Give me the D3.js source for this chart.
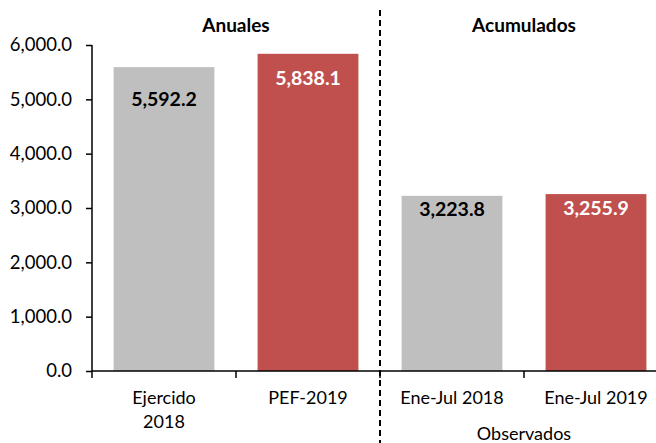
<!DOCTYPE html>
<html>
<head>
<meta charset="utf-8">
<script src="https://cdn.jsdelivr.net/npm/d3@7"></script>
<style>
  body { margin: 0; background: #fff; }
  text { font-family: Lato, "Open Sans", sans-serif; }
</style>
</head>
<body>
<svg id="chart" width="656" height="443"></svg>
<script>
// data
var categories = ["Ejercido 2018", "PEF-2019", "Ene-Jul 2018", "Ene-Jul 2019"];
var values = [5592.2, 5838.1, 3223.8, 3255.9];
var groupLabels = ["Anuales", "Acumulados"];
var yTicks = [0, 1000, 2000, 3000, 4000, 5000, 6000];

var colors = ["#bfbfbf", "#c0504d", "#bfbfbf", "#c0504d"];
var labelColors = ["#000", "#fff", "#000", "#fff"];
var labelDrop = [32, 24, 13, 14];

var svg = d3.select("#chart");
var plotLeft = 92, plotRight = 668, plotTop = 45, plotBottom = 371;

var x = d3.scaleBand().domain(categories).range([plotLeft, plotRight]).paddingInner(0.3).paddingOuter(0.15);
var y = d3.scaleLinear().domain([0, 6000]).range([plotBottom, plotTop]);
var fmt = d3.format(",.1f");

function groupCenter(a, b) {
    return (x(categories[a]) + x(categories[b]) + x.bandwidth()) / 2;
}

// bars
svg.selectAll("rect.bar")
    .data(values)
    .enter().append("rect")
    .attr("class", "bar")
    .attr("x", function (d, i) { return x(categories[i]); })
    .attr("width", x.bandwidth())
    .attr("y", function (d) { return y(d); })
    .attr("height", function (d) { return plotBottom - y(d); })
    .attr("fill", function (d, i) { return colors[i]; });

// value labels
svg.selectAll("text.val")
    .data(values)
    .enter().append("text")
    .attr("class", "val")
    .attr("x", function (d, i) { return x(categories[i]) + x.bandwidth() / 2; })
    .attr("y", function (d, i) { return y(d) + labelDrop[i]; })
    .attr("dy", "0.35em")
    .attr("text-anchor", "middle")
    .attr("font-size", 19.5)
    .attr("font-weight", "bold")
    .attr("fill", function (d, i) { return labelColors[i]; })
    .text(function (d) { return fmt(d); });

// y axis
var yAxis = svg.append("g")
    .attr("transform", "translate(" + plotLeft + ",0)")
    .call(d3.axisLeft(y).tickValues(yTicks).tickFormat(fmt).tickSize(6).tickPadding(14));
yAxis.select(".domain").attr("stroke", "#000").attr("stroke-width", 1.5)
    .attr("d", "M0," + plotTop + "V" + plotBottom);
yAxis.selectAll(".tick line").attr("stroke", "#000").attr("stroke-width", 1.5);
yAxis.selectAll(".tick text").attr("font-size", 18.5).attr("fill", "#000")
    .attr("font-family", "Lato, sans-serif");

// x axis line with ticks at band boundaries
svg.append("line")
    .attr("x1", plotLeft).attr("x2", 656)
    .attr("y1", plotBottom).attr("y2", plotBottom)
    .attr("stroke", "#000").attr("stroke-width", 1.5);
svg.selectAll("line.xt")
    .data(d3.range(4))
    .enter().append("line")
    .attr("class", "xt")
    .attr("x1", function (i) { return plotLeft + i * x.step(); })
    .attr("x2", function (i) { return plotLeft + i * x.step(); })
    .attr("y1", plotBottom).attr("y2", plotBottom + 7)
    .attr("stroke", "#000").attr("stroke-width", 1.5);

// category labels
svg.selectAll("text.cat")
    .data(categories)
    .enter().append("text")
    .attr("class", "cat")
    .attr("text-anchor", "middle")
    .attr("font-size", 18)
    .attr("fill", "#000")
    .attr("x", function (d) { return x(d) + x.bandwidth() / 2; })
    .attr("y", 404)
    .each(function (d, i) {
        var t = d3.select(this);
        var cx = x(d) + x.bandwidth() / 2;
        if (i === 0) {
            t.append("tspan").attr("x", cx).text("Ejercido");
            t.append("tspan").attr("x", cx).attr("dy", 24).text("2018");
        } else {
            t.text(d);
        }
    });
svg.append("text")
    .attr("x", groupCenter(2, 3))
    .attr("y", 440)
    .attr("text-anchor", "middle")
    .attr("font-size", 18)
    .text("Observados");

// divider between groups
var mid = plotLeft + 2 * x.step();
svg.append("line")
    .attr("x1", mid).attr("x2", mid)
    .attr("y1", 10).attr("y2", 443)
    .attr("stroke", "#000").attr("stroke-width", 2)
    .attr("stroke-dasharray", "6,4");

// group headers
svg.selectAll("text.grp")
    .data(groupLabels)
    .enter().append("text")
    .attr("class", "grp")
    .attr("x", function (d, i) { return i === 0 ? groupCenter(0, 1) : groupCenter(2, 3); })
    .attr("y", 32)
    .attr("text-anchor", "middle")
    .attr("font-size", 19)
    .attr("font-weight", "bold")
    .text(function (d) { return d; });
</script>
</body>
</html>
